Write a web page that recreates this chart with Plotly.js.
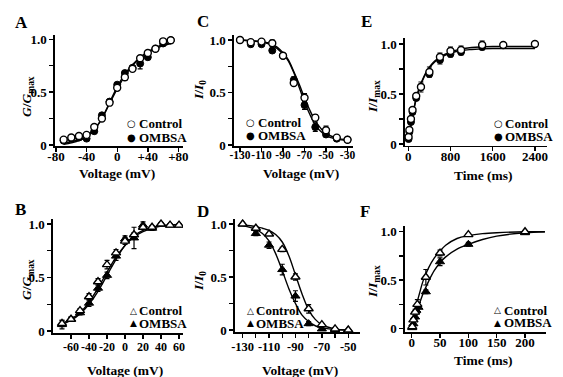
<!DOCTYPE html>
<html><head><meta charset="utf-8">
<script src="https://cdn.plot.ly/plotly-3.0.1.min.js"></script>
<style>html,body{margin:0;padding:0;background:#fff}</style>
</head><body><div id="chart" style="width:563px;height:377px"></div>
<script>
// ---------- Panel A: G/Gmax vs voltage (circles) ----------
const aV = [-70,-60,-50,-40,-30,-20,-10,0,10,20,30,40,50,60,70];
const aCtrl = [0.05,0.07,0.085,0.095,0.17,0.25,0.40,0.54,0.64,0.72,0.82,0.87,0.91,0.98,0.99];
const aCtrlErr = [0.01,0.01,0.01,0.01,0.02,0.02,0.02,0.02,0.03,0.02,0.02,0.02,0.01,0.01,0.01];
const aOmb = [0.04,0.06,0.07,0.06,0.13,0.28,0.41,0.57,0.68,0.73,0.77,0.83,0.91,0.96,0.99];
const aOmbErr = [0.01,0.01,0.01,0.01,0.02,0.02,0.02,0.02,0.02,0.02,0.05,0.02,0.01,0.01,0.01];
const aFitV = [-70,-60,-50,-40,-30,-20,-10,0,10,20,30,40,50,60,70];
const aFitCtrl = [0.015,0.03,0.05,0.09,0.15,0.25,0.39,0.53,0.65,0.75,0.82,0.87,0.91,0.94,0.96];
const aFitOmb = [0.005,0.02,0.04,0.075,0.14,0.25,0.40,0.55,0.67,0.76,0.83,0.88,0.92,0.95,0.97];
const aTickVals = [-80,-40,0,40,80];
const aTickText = ['-80','-40','0','+40','+80'];

// ---------- Panel B: G/Gmax vs voltage (triangles) ----------
const bV = [-70,-60,-50,-40,-30,-20,-10,0,10,20,30,40,50,60];
const bCtrl = [0.07,0.11,0.19,0.32,0.46,0.62,0.73,0.84,0.90,0.97,0.97,1.0,0.99,0.99];
const bCtrlErr = [0.03,0.02,0.02,0.03,0.03,0.04,0.03,0.03,0.02,0.02,0.01,0.01,0.01,0.01];
const bOmb = [0.06,0.11,0.17,0.26,0.40,0.52,0.70,0.86,0.87,0.99,0.96,1.0,0.99,0.99];
const bOmbErr = [0.04,0.02,0.02,0.03,0.03,0.03,0.04,0.03,0.10,0.03,0.02,0.01,0.01,0.01];
const bFitV = [-70,-60,-50,-40,-30,-20,-10,0,10,20,30,40,50,60];
const bFitCtrl = [0.07,0.11,0.17,0.27,0.40,0.55,0.69,0.80,0.88,0.93,0.96,0.98,0.99,0.995];
const bFitOmb = [0.06,0.10,0.16,0.25,0.37,0.52,0.67,0.80,0.89,0.94,0.97,0.985,0.99,0.995];
const bTickVals = [-60,-40,-20,0,20,40,60];
const bTickText = ['-60','-40','-20','0','20','40','60'];

// ---------- Panel C: I/I0 vs voltage (circles) ----------
const cV = [-130,-120,-110,-100,-90,-80,-70,-60,-50,-40,-30];
const cCtrl = [1.0,0.98,0.985,0.97,0.85,0.59,0.45,0.26,0.14,0.07,0.05];
const cCtrlErr = [0.01,0.01,0.01,0.03,0.01,0.02,0.04,0.03,0.04,0.02,0.01];
const cOmb = [1.0,0.96,0.96,0.90,0.85,0.62,0.38,0.17,0.10,0.06,0.05];
const cOmbErr = [0.01,0.02,0.01,0.01,0.01,0.03,0.04,0.04,0.02,0.02,0.01];
const cFitV = [-130,-120,-110,-100,-90,-85,-80,-75,-70,-65,-60,-55,-50,-40,-30];
const cFitCtrl = [1.0,0.995,0.985,0.96,0.88,0.81,0.70,0.58,0.45,0.33,0.23,0.16,0.11,0.065,0.05];
const cFitOmb = [1.0,0.99,0.98,0.95,0.87,0.80,0.69,0.55,0.41,0.29,0.19,0.13,0.09,0.055,0.045];
const cTickVals = [-130,-110,-90,-70,-50,-30];
const cTickText = ['-130','-110','-90','-70','-50','-30'];

// ---------- Panel D: I/I0 vs voltage (triangles) ----------
const dV = [-130,-120,-110,-100,-90,-80,-70,-60,-50];
const dCtrl = [1.0,0.96,0.905,0.76,0.50,0.20,0.05,0.01,0.0];
const dCtrlErr = [0.0,0.01,0.01,0.02,0.03,0.04,0.01,0.01,0.01];
const dOmb = [1.0,0.91,0.80,0.57,0.32,0.06,0.01,0.0,0.0];
const dOmbErr = [0.0,0.02,0.03,0.05,0.05,0.02,0.01,0.0,0.0];
const dFitV = [-130,-120,-115,-110,-105,-100,-95,-90,-85,-80,-75,-70,-60,-50];
const dFitCtrl = [0.99,0.975,0.96,0.94,0.90,0.83,0.70,0.52,0.34,0.19,0.10,0.05,0.01,0.0];
const dFitOmb = [0.985,0.95,0.91,0.84,0.72,0.56,0.39,0.25,0.14,0.08,0.04,0.02,0.005,0.0];
const dTickVals = [-130,-110,-90,-70,-50];
const dTickText = ['-130','-110','-90','-70','-50'];
const dMinorTicks = [-120,-100,-80,-60];

// ---------- Panel E: I/Imax vs time (circles) ----------
const eT = [5,20,50,80,150,240,400,600,800,1000,1400,1800,2400];
const eCtrl = [0.07,0.14,0.25,0.34,0.48,0.57,0.72,0.87,0.93,0.94,0.99,0.99,1.0];
const eCtrlErr = [0.01,0.01,0.02,0.02,0.02,0.05,0.05,0.04,0.04,0.04,0.04,0.02,0.01];
const eTOmb = [5,20,50,80,150,240,400,600,800,1000,1400];
const eOmb = [0.05,0.12,0.22,0.32,0.46,0.57,0.70,0.84,0.90,0.92,0.97];
const eOmbErr = [0.01,0.01,0.02,0.02,0.02,0.03,0.03,0.04,0.03,0.03,0.03];
const eFitT = [0,50,100,150,200,300,400,500,600,800,1000,1200,1600,2000,2400];
const eFitCtrl = [0.02,0.20,0.34,0.46,0.55,0.68,0.77,0.83,0.87,0.92,0.95,0.965,0.975,0.975,0.975];
const eFitOmb = [0.02,0.19,0.33,0.45,0.54,0.67,0.76,0.82,0.86,0.91,0.935,0.945,0.955,0.955,0.955];
const eTickVals = [0,800,1600,2400];
const eTickText = ['0','800','1600','2400'];

// ---------- Panel F: I/Imax vs time (triangles) ----------
const fT = [1,3,6,10,25,50,100,200];
const fCtrl = [0.02,0.09,0.17,0.25,0.53,0.78,0.97,1.0];
const fCtrlErr = [0.01,0.02,0.03,0.05,0.08,0.03,0.01,0.01];
const fTOmb = [1,3,6,8,12,25,50,100,200];
const fOmb = [0.01,0.05,0.12,0.19,0.22,0.38,0.69,0.87,0.99];
const fOmbErr = [0.01,0.02,0.03,0.04,0.05,0.02,0.04,0.02,0.01];
const fFitT = [0,5,10,15,20,30,40,50,60,80,100,125,150,200,235];
const fFitCtrl = [0,0.15,0.28,0.39,0.49,0.63,0.73,0.80,0.86,0.93,0.96,0.98,0.99,1.0,1.0];
const fFitOmb = [0,0.10,0.20,0.28,0.36,0.49,0.60,0.68,0.74,0.82,0.87,0.92,0.955,0.99,1.0];
const fTickVals = [0,50,100,150,200];
const fTickText = ['0','50','100','150','200'];

const yTickVals = [0,0.5,1.0];
const yTickText = ['0','0.5','1.0'];
const yMinorTicks = [0.25,0.75];

// ---------- layout helpers ----------
const W = 563, H = 377;
const FONT = 'Liberation Serif';
const SYMFONT = 'DejaVu Sans';
const px = v => v / W;
const py = v => 1 - v / H;

const panels = [
  {letter:'A', xs:[55,183], ys:[35,146], xr:[-81.3,86], yr:[-0.01,1.04],
   tv:aTickVals, tt:aTickText, minor:null, tfs:13, stand:-6, sym:'circle',
   x:aV, c:aCtrl, ce:aCtrlErr, xo:aV, o:aOmb, oe:aOmbErr, fx:aFitV, fc:aFitCtrl, fo:aFitOmb,
   ytitle:'<i>G</i>/<i>G</i><sub>max</sub>', xtitle:'Voltage (mV)',
   lp:[21.5,23], ytp:[27,97], xtp:[117,173], leg:[131.5,123,137,137]},
  {letter:'B', xs:[53,183], ys:[219,333], xr:[-80,64.4], yr:[-0.019,1.047],
   tv:bTickVals, tt:bTickText, minor:null, tfs:12, stand:-2, sym:'triangle-up',
   x:bV, c:bCtrl, ce:bCtrlErr, xo:bV, o:bOmb, oe:bOmbErr, fx:bFitV, fc:bFitCtrl, fo:bFitOmb,
   ytitle:'<i>G</i>/<i>G</i><sub>max</sub>', xtitle:'Voltage (mV)',
   lp:[20,209], ytp:[27,280], xtp:[125,370], leg:[133,310.5,323,137]},
  {letter:'C', xs:[234,353], ys:[35,146], xr:[-135.6,-24.9], yr:[-0.01,1.048],
   tv:cTickVals, tt:cTickText, minor:null, tfs:11.5, stand:-6, sym:'circle',
   x:cV, c:cCtrl, ce:cCtrlErr, xo:cV, o:cOmb, oe:cOmbErr, fx:cFitV, fc:cFitCtrl, fo:cFitOmb,
   ytitle:'<i>I</i>/<i>I</i><sub>0</sub>', xtitle:'Voltage (mV)',
   lp:[203,22], ytp:[199,90], xtp:[301,173], leg:[250.5,122.7,135.5,256]},
  {letter:'D', xs:[235,360], ys:[219,332], xr:[-135.8,-41.1], yr:[-0.019,1.047],
   tv:dTickVals, tt:dTickText, minor:dMinorTicks, tfs:12.5, stand:-2, sym:'triangle-up',
   x:dV, c:dCtrl, ce:dCtrlErr, xo:dV, o:dOmb, oe:dOmbErr, fx:dFitV, fc:dFitCtrl, fo:dFitOmb,
   ytitle:'<i>I</i>/<i>I</i><sub>0</sub>', xtitle:'Voltage (mV)',
   lp:[203,211], ytp:[199,281], xtp:[300,370], leg:[250,310.5,323,254]},
  {letter:'E', xs:[405,547], ys:[38,145.5], xr:[-62.6,2629], yr:[-0.015,1.06],
   tv:eTickVals, tt:eTickText, minor:null, tfs:13, stand:-6, sym:'circle',
   x:eT, c:eCtrl, ce:eCtrlErr, xo:eTOmb, o:eOmb, oe:eOmbErr, fx:eFitT, fc:eFitCtrl, fo:eFitOmb,
   ytitle:'<i>I</i>/<i>I</i><sub>max</sub>', xtitle:'Time (ms)',
   lp:[366,22], ytp:[373,97], xtp:[483,175], leg:[498.3,123,136,503]},
  {letter:'F', xs:[405,546], ys:[226,332], xr:[-11.8,237], yr:[-0.035,1.059],
   tv:fTickVals, tt:fTickText, minor:null, tfs:13, stand:-6, sym:'triangle-up',
   x:fT, c:fCtrl, ce:fCtrlErr, xo:fTOmb, o:fOmb, oe:fOmbErr, fx:fFitT, fc:fFitCtrl, fo:fFitOmb,
   ytitle:'<i>I</i>/<i>I</i><sub>max</sub>', xtitle:'Time (ms)',
   lp:[365,211], ytp:[373,282], xtp:[483,360], leg:[497.7,310,322.5,502]}
];

const traces = [];
const layout = {
  width: W, height: H, margin:{l:0,r:0,t:0,b:0},
  paper_bgcolor:'#fff', plot_bgcolor:'rgba(0,0,0,0)',
  showlegend:false, font:{family:FONT, color:'#000', size:13, weight:700},
  annotations:[]
};

panels.forEach((p, i) => {
  const n = i === 0 ? '' : String(i+1);
  const xa = 'x' + n, ya = 'y' + n;
  const xaxis = {
    domain:[px(p.xs[0]), px(p.xs[1])], range:p.xr, anchor:ya,
    showgrid:false, zeroline:false, showline:true, linecolor:'#000', linewidth:1.6,
    ticks:'outside', ticklen:4, tickwidth:1.4, tickcolor:'#000', tickangle:0,
    ticklabelstandoff:p.stand,
    tickmode:'array', tickvals:p.tv, ticktext:p.tt,
    tickfont:{family:FONT, size:p.tfs, color:'#000', weight:700}, fixedrange:true
  };
  if (p.minor) xaxis.minor = {tickmode:'array', tickvals:p.minor, ticks:'outside', ticklen:4, tickwidth:1.2, tickcolor:'#000', showgrid:false};
  layout['xaxis' + n] = xaxis;
  layout['yaxis' + n] = {
    domain:[py(p.ys[1]), py(p.ys[0])], range:p.yr, anchor:xa,
    showgrid:false, zeroline:false, showline:true, linecolor:'#000', linewidth:1.6,
    ticks:'outside', ticklen:4, tickwidth:1.4, tickcolor:'#000',
    tickmode:'array', tickvals:yTickVals, ticktext:yTickText,
    minor:{tickmode:'array', tickvals:yMinorTicks, ticks:'outside', ticklen:4, tickwidth:1.2, tickcolor:'#000', showgrid:false},
    tickfont:{family:FONT, size:13, color:'#000', weight:700}, fixedrange:true
  };
  const isTri = p.sym === 'triangle-up';
  const msize = isTri ? 8 : 7;
  traces.push({x:p.fx, y:p.fc, xaxis:xa, yaxis:ya, mode:'lines',
    line:{color:'#000', width:1.4, shape:'spline'}, hoverinfo:'skip'});
  traces.push({x:p.fx, y:p.fo, xaxis:xa, yaxis:ya, mode:'lines',
    line:{color:'#000', width:1.4, shape:'spline'}, hoverinfo:'skip'});
  traces.push({x:p.xo, y:p.o, xaxis:xa, yaxis:ya, mode:'markers', name:'OMBSA',
    marker:{symbol:p.sym, size:msize, color:'#000', line:{color:'#000', width:1}},
    error_y:{type:'data', array:p.oe, visible:true, color:'#000', thickness:1.2, width:2.5}});
  traces.push({x:p.x, y:p.c, xaxis:xa, yaxis:ya, mode:'markers', name:'Control',
    marker:{symbol:p.sym, size:msize, color:'#fff', line:{color:'#000', width:1.4}},
    error_y:{type:'data', array:p.ce, visible:true, color:'#000', thickness:1.2, width:2.5}});

  const A = layout.annotations;
  A.push({text:p.letter, xref:'paper', yref:'paper', x:px(p.lp[0]), y:py(p.lp[1]),
    xanchor:'center', yanchor:'middle', showarrow:false,
    font:{family:FONT, size:17, weight:700, color:'#000'}});
  A.push({text:p.ytitle, xref:'paper', yref:'paper', x:px(p.ytp[0]), y:py(p.ytp[1]),
    xanchor:'center', yanchor:'middle', showarrow:false, textangle:-90,
    font:{family:FONT, size:13.5, weight:700, color:'#000'}});
  A.push({text:p.xtitle, xref:'paper', yref:'paper', x:px(p.xtp[0]), y:py(p.xtp[1]),
    xanchor:'center', yanchor:'middle', showarrow:false,
    font:{family:FONT, size:13.5, weight:700, color:'#000'}});
  const openSym = isTri ? '\u25B3' : '\u25CB';
  const fillSym = isTri ? '\u25B2' : '\u25CF';
  const lg = p.leg;
  [[openSym, 'Control', lg[1]], [fillSym, 'OMBSA', lg[2]]].forEach(e => {
    A.push({text:e[0], xref:'paper', yref:'paper', x:px(lg[0]), y:py(e[2]),
      xanchor:'center', yanchor:'middle', showarrow:false,
      font:{family:SYMFONT, size:isTri ? 9 : 10, color:'#000'}});
    A.push({text:e[1], xref:'paper', yref:'paper', x:px(lg[3]), y:py(e[2]),
      xanchor:'left', yanchor:'middle', showarrow:false,
      font:{family:FONT, size:13, weight:700, color:'#000'}});
  });
});

Plotly.newPlot('chart', traces, layout, {displayModeBar:false, staticPlot:true});
</script></body></html>
